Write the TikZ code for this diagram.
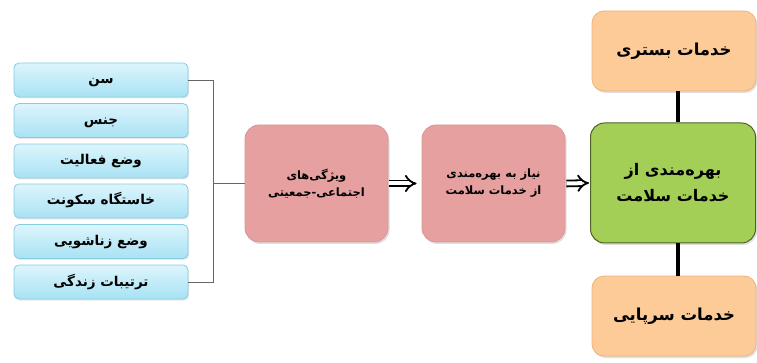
\documentclass[tikz,border=0pt]{standalone}
\usepackage{fontspec}
\setmainfont{DejaVu Sans}
\newfontfamily\arabicfont[Script=Arabic]{DejaVu Sans}
\TeXXeTstate=1
\usetikzlibrary{arrows.meta,shadows}
\newcommand{\rtltext}[1]{\beginR #1\endR}
\definecolor{bluetop}{HTML}{DDF5FC}
\definecolor{bluebot}{HTML}{A8E2F4}
\definecolor{blueedge}{HTML}{86CDE2}
\definecolor{pinkfill}{HTML}{E6A09F}
\definecolor{pinkedge}{HTML}{D99694}
\definecolor{greenfill}{HTML}{A3CF57}
\definecolor{greenedge}{HTML}{4F6228}
\definecolor{orangefill}{HTML}{FCCB98}
\definecolor{orangeedge}{HTML}{F2B27A}
\tikzset{
  x=1pt, y=-1pt,
  bluebox/.style={draw=blueedge, line width=0.8pt, rounded corners=5pt, top color=bluetop, bottom color=bluebot,
    minimum width=174pt, minimum height=34pt, inner sep=0pt, text height=10pt, text depth=2pt,
    font=\arabicfont\bfseries\fontsize{13.5}{15}\selectfont,
    drop shadow={opacity=0.2, shadow xshift=1pt, shadow yshift=-1.5pt}},
  pinkbox/.style={draw=pinkedge, line width=0.8pt, rounded corners=14pt, fill=pinkfill,
    minimum width=143pt, minimum height=117pt, inner sep=0pt, align=center,
    font=\arabicfont\bfseries\fontsize{11.5}{17}\selectfont,
    drop shadow={opacity=0.25, shadow xshift=1.5pt, shadow yshift=-2pt}},
  greenbox/.style={draw=greenedge, line width=1pt, rounded corners=14pt, fill=greenfill,
    minimum width=165pt, minimum height=120pt, inner sep=0pt, align=center,
    font=\arabicfont\bfseries\fontsize{16}{26}\selectfont,
    drop shadow={opacity=0.25, shadow xshift=1.5pt, shadow yshift=-2pt}},
  orangebox/.style={draw=orangeedge, line width=0.8pt, rounded corners=12pt, fill=orangefill,
    minimum width=164pt, minimum height=80pt, inner sep=0pt, text height=12pt, text depth=3pt,
    font=\arabicfont\bfseries\fontsize{16.5}{18}\selectfont,
    drop shadow={opacity=0.25, shadow xshift=1.5pt, shadow yshift=-2pt}},
  bracketline/.style={draw=black!60, line width=0.9pt},
  hollowarrow/.style={double, double distance=4pt, line width=1.8pt, -{Implies}},
  thickline/.style={line width=3.6pt, black}
}
\begin{document}
\begin{tikzpicture}
\useasboundingbox (0,0) rectangle (757,363);
% left boxes
\node[bluebox] (b1) at (101,80) {\rtltext{سن}};
\node[bluebox] (b2) at (101,120.5) {\rtltext{جنس}};
\node[bluebox] (b3) at (101,161) {\rtltext{وضع فعالیت}};
\node[bluebox] (b4) at (101,201) {\rtltext{خاستگاه سکونت}};
\node[bluebox] (b5) at (101,241.5) {\rtltext{وضع زناشویی}};
\node[bluebox] (b6) at (101,282) {\rtltext{ترتیبات زندگی}};
% middle boxes
\node[pinkbox] (p1) at (316.5,183.5) {\beginR ویژگی‌های\endR\\\beginR اجتماعی-جمعیتی\endR};
\node[pinkbox] (p2) at (493.5,183.5) {\beginR نیاز به بهره‌مندی\endR\\\beginR از خدمات سلامت\endR};
\node[greenbox] (g) at (673,183) {\beginR بهره‌مندی از\endR\\\beginR خدمات سلامت\endR};
\node[orangebox] (o1) at (674,51) {\rtltext{خدمات بستری}};
\node[orangebox] (o2) at (674,316) {\rtltext{خدمات سرپایی}};
% bracket
\coordinate (bx) at (213,0);
\draw[bracketline] (b1.east) -- (bx |- b1.east) -- (bx |- b6.east) -- (b6.east);
\draw[bracketline] (bx |- p1.west) -- (p1.west);
% arrows
\draw[hollowarrow] ([xshift=1pt]p1.east) -- ([xshift=-5pt]p2.west);
\draw[hollowarrow] ([xshift=1pt]p2.east) -- ([xshift=-1pt]g.west);
% vertical lines
\draw[thickline] (o1.south -| 678,0) -- (g.north -| 678,0);
\draw[thickline] (g.south -| 678,0) -- (o2.north -| 678,0);
\end{tikzpicture}
\end{document}
